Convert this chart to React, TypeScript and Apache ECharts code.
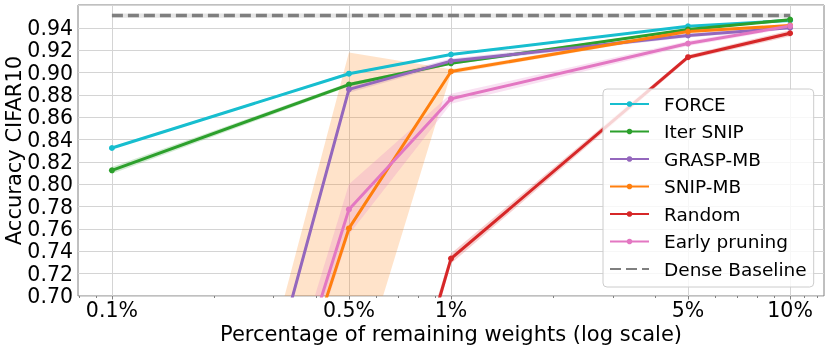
import React, { useEffect, useRef } from "react";
import * as echarts from "echarts";

// ---- data ----
const percents = [0.1, 0.5, 1, 5, 10];
const tickPercents = [0.1, 0.5, 1, 5, 10];
const tickLabels = ["0.1%", "0.5%", "1%", "5%", "10%"];
const minorPercents = [0.08, 0.09, 0.2, 0.3, 0.4, 0.6, 0.7, 0.8, 0.9, 2, 3, 4, 6, 7, 8, 9, 11, 12];

const forceMean = [0.8325, 0.899, 0.9162, 0.9415, 0.9467];
const iterSnipMean = [0.8125, 0.8893, 0.9083, 0.9385, 0.9474];
const graspMean = [0.105, 0.885, 0.9103, 0.9332, 0.9402];
const snipMean = [0.105, 0.7605, 0.901, 0.9367, 0.9422];
const randomMean = [0.1, 0.42, 0.7335, 0.9138, 0.9352];
const earlyMean = [0.1, 0.7775, 0.8765, 0.926, 0.9418];
const denseValue = 0.951;

const forceLo = [0.8315, 0.898, 0.9155, 0.9408, 0.946];
const forceHi = [0.8335, 0.9, 0.917, 0.9422, 0.9474];
const iterSnipLo = [0.8095, 0.8875, 0.907, 0.9375, 0.9465];
const iterSnipHi = [0.8155, 0.891, 0.9096, 0.9395, 0.9483];
const graspLo = [0.098, 0.882, 0.908, 0.9315, 0.9388];
const graspHi = [0.112, 0.888, 0.9126, 0.9349, 0.9416];
const snipLo = [0.095, 0.6, 0.899, 0.9352, 0.9408];
const snipHi = [0.115, 0.918, 0.903, 0.9382, 0.9436];
const randomLo = [0.09, 0.4, 0.729, 0.9118, 0.9325];
const randomHi = [0.11, 0.44, 0.738, 0.9158, 0.9379];
const earlyLo = [0.095, 0.755, 0.872, 0.9238, 0.9398];
const earlyHi = [0.105, 0.8, 0.881, 0.9282, 0.9438];
const denseLo = [0.949, 0.949];
const denseHi = [0.953, 0.953];
const densePercents = [0.1, 10];

const names = ["FORCE", "Iter SNIP", "GRASP-MB", "SNIP-MB", "Random", "Early pruning", "Dense Baseline"];
const colors = ["#17becf", "#2ca02c", "#9467bd", "#ff7f0e", "#d62728", "#e377c2", "#7f7f7f"];

const lx = (p: number) => Math.log10(p);
const FONT = "DejaVu Sans";

function bandSeries(name: string, xs: number[], lo: number[], hi: number[], color: string, opacity: number) {
  return {
    type: "custom",
    name: name + " band",
    xAxisIndex: 0,
    yAxisIndex: 0,
    clip: true,
    silent: true,
    z: 1,
    data: xs.map((p, i) => [lx(p), lo[i], hi[i]]),
    encode: { x: 0, y: [1, 2] },
    renderItem: (params: any, api: any) => {
      if (params.dataIndex !== 0) return { type: "group", children: [] };
      const top = xs.map((p, i) => api.coord([lx(p), hi[i]]));
      const bot = xs.map((p, i) => api.coord([lx(p), lo[i]])).reverse();
      return {
        type: "polygon",
        shape: { points: top.concat(bot) },
        style: { fill: color, opacity },
      };
    },
  };
}

function lineSeries(name: string, vals: number[], color: string) {
  return {
    type: "line",
    name,
    xAxisIndex: 0,
    yAxisIndex: 0,
    data: percents.map((p, i) => [lx(p), vals[i]]),
    symbol: "circle",
    symbolSize: 6,
    showSymbol: true,
    clip: true,
    z: 3,
    lineStyle: { color, width: 3 },
    itemStyle: { color },
  };
}

export default function App() {
  const ref = useRef<HTMLDivElement>(null);
  useEffect(() => {
    if (!ref.current) return;
    const chart = echarts.init(ref.current, undefined, { renderer: "svg" });
    const means = [forceMean, iterSnipMean, graspMean, snipMean, randomMean, earlyMean];
    const los = [forceLo, iterSnipLo, graspLo, snipLo, randomLo, earlyLo];
    const his = [forceHi, iterSnipHi, graspHi, snipHi, randomHi, earlyHi];
    const series: any[] = [];
    for (let i = 0; i < 6; i++) {
      series.push(bandSeries(names[i], percents, los[i], his[i], colors[i], 0.22));
    }
    series.push(bandSeries(names[6], densePercents, denseLo, denseHi, colors[6], 0.2));
    for (let i = 0; i < 6; i++) {
      series.push(lineSeries(names[i], means[i], colors[i]));
    }
    series.push({
      type: "line",
      name: names[6],
      xAxisIndex: 0,
      yAxisIndex: 0,
      data: densePercents.map((p) => [lx(p), denseValue]),
      symbol: "circle",
      symbolSize: 0,
      showSymbol: false,
      z: 3,
      lineStyle: { color: colors[6], width: 3.5, type: [11, 5] },
      itemStyle: { color: colors[6] },
    });

    const option: any = {
      animation: false,
      grid: {
        left: 78,
        right: 6,
        top: 5,
        bottom: 52,
        show: true,
        containLabel: false,
        outerBoundsMode: "none",
        borderColor: "#808080",
        borderWidth: 1,
        backgroundColor: "transparent",
      },
      xAxis: [
        {
          type: "value",
          min: lx(0.1) - 0.1,
          max: lx(10) + 0.1,
          position: "bottom",
          name: "Percentage of remaining weights (log scale)",
          nameLocation: "middle",
          nameGap: 27,
          nameMoveOverlap: false,
          nameTextStyle: { fontFamily: FONT, fontSize: 21, color: "#000" },
          axisLine: { show: false },
          axisTick: {
            show: true,
            length: 3.5,
            lineStyle: { color: "#808080" },
            customValues: tickPercents.map(lx),
          },
          axisLabel: {
            show: true,
            margin: 3,
            fontFamily: FONT,
            fontSize: 20.5,
            color: "#000",
            customValues: tickPercents.map(lx),
            formatter: (v: number) => {
              let best = 0;
              for (let i = 1; i < tickPercents.length; i++) {
                if (Math.abs(lx(tickPercents[i]) - v) < Math.abs(lx(tickPercents[best]) - v)) best = i;
              }
              return tickLabels[best];
            },
          },
          splitLine: { show: true, lineStyle: { color: "#d4d4d4", width: 1 } },
        },
        {
          type: "value",
          min: lx(0.1) - 0.1,
          max: lx(10) + 0.1,
          position: "bottom",
          axisLine: { show: false },
          axisTick: {
            show: true,
            length: 2,
            lineStyle: { color: "#808080" },
            customValues: minorPercents.map(lx),
          },
          axisLabel: { show: false },
          splitLine: { show: false },
        },
      ],
      yAxis: {
        type: "value",
        min: 0.7,
        max: 0.9605,
        interval: 0.02,
        name: "Accuracy CIFAR10",
        nameLocation: "middle",
        nameGap: 54,
        nameMoveOverlap: false,
        nameTextStyle: { fontFamily: FONT, fontSize: 21, color: "#000" },
        axisLine: { show: false },
        axisTick: { show: false },
        axisLabel: {
          margin: 5,
          fontFamily: FONT,
          fontSize: 20.5,
          color: "#000",
          formatter: (v: number) => (v > 0.955 ? "" : v.toFixed(2)),
        },
        splitLine: { show: true, lineStyle: { color: "#d4d4d4", width: 1 } },
      },
      legend: {
        orient: "vertical",
        left: 603,
        top: 89,
        itemWidth: 39,
        itemHeight: 7,
        itemGap: 7.5,
        padding: [5, 7, 8, 6],
        backgroundColor: "rgba(255,255,255,0.8)",
        borderColor: "#cccccc",
        borderWidth: 1,
        borderRadius: 4,
        selectedMode: false,
        textStyle: {
          fontFamily: FONT,
          fontSize: 18.5,
          color: "#000",
          lineHeight: 20,
          padding: [0, 0, 0, 10],
        },
        data: names.map((n, i) =>
          i === 6 ? { name: n, itemStyle: { opacity: 0 } } : { name: n }
        ),
      },
      series,
    };
    chart.setOption(option);
    return () => chart.dispose();
  }, []);
  return (
    <div
      ref={ref}
      style={{ position: "fixed", left: 0, top: 0, width: 830, height: 348 }}
    />
  );
}
